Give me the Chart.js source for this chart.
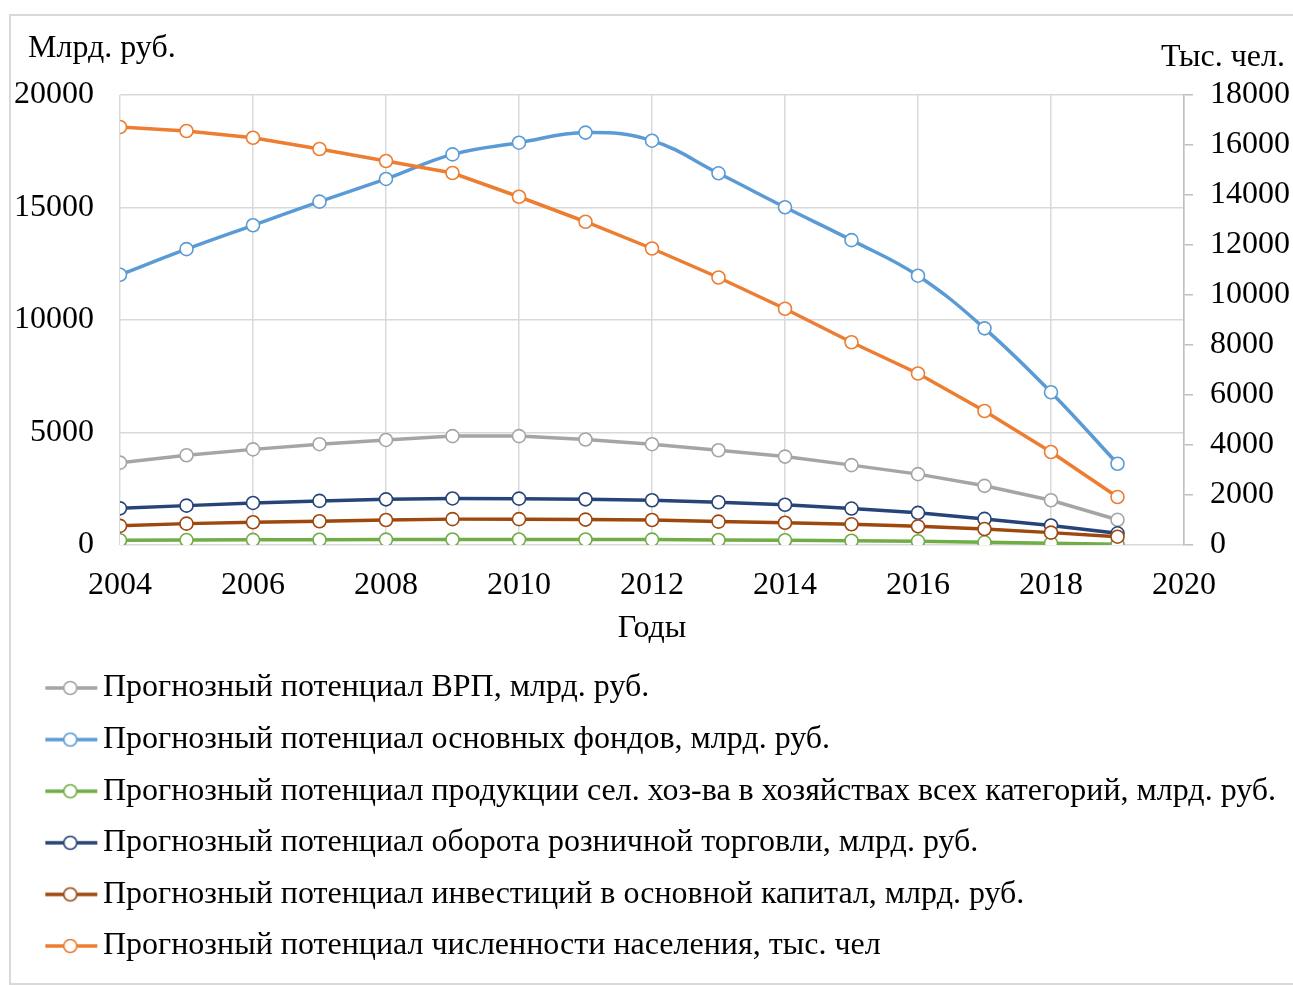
<!DOCTYPE html>
<html lang="ru">
<head>
    <meta charset="UTF-8">
    <title>Прогнозный потенциал</title>
    <script src="https://cdn.jsdelivr.net/npm/chart.js"></script>
    <style>
        body {
            margin: 0;
            background-color: white;
            overflow: hidden;
        }
        .frame {
            position: absolute;
            left: 9px;
            top: 14px;
            width: 1340px;
            height: 967px;
            border: 2px solid #d9d9d9;
        }
        #forecastChart {
            position: absolute;
            left: 0;
            top: 0;
        }
    </style>
</head>
<body>
    <div class="frame"></div>
    <canvas id="forecastChart" width="1293" height="985"></canvas>

    <script>
        const years = [2004, 2005, 2006, 2007, 2008, 2009, 2010, 2011, 2012, 2013, 2014, 2015, 2016, 2017, 2018, 2019];

        // млрд. руб. (left axis)
        const grp = [3660, 3990, 4250, 4480, 4670, 4840, 4840, 4690, 4480, 4210, 3930, 3550, 3150, 2630, 1990, 1120];
        const fixedAssets = [12010, 13150, 14210, 15260, 16270, 17360, 17880, 18330, 17970, 16520, 15010, 13550, 11970, 9630, 6790, 3610];
        const agriculture = [210, 220, 230, 235, 240, 245, 245, 245, 240, 225, 210, 190, 165, 120, 75, 30];
        const retail = [1630, 1750, 1870, 1960, 2030, 2070, 2060, 2030, 1990, 1900, 1790, 1620, 1430, 1160, 870, 520];
        const investment = [850, 950, 1010, 1055, 1110, 1150, 1150, 1130, 1110, 1040, 990, 920, 830, 710, 550, 370];

        // тыс. чел. (right axis)
        const population = [16720, 16560, 16290, 15840, 15360, 14880, 13930, 12930, 11860, 10700, 9450, 8110, 6860, 5360, 3720, 1920];

        const leftTicks = [0, 5000, 10000, 15000, 20000];
        const rightTicks = [0, 2000, 4000, 6000, 8000, 10000, 12000, 14000, 16000, 18000];
        const yearTicks = [2004, 2006, 2008, 2010, 2012, 2014, 2016, 2018, 2020];

        const leftUnit = 'Млрд. руб.';
        const rightUnit = 'Тыс. чел.';
        const xTitle = 'Годы';

        const serif = '"Liberation Serif", "Times New Roman", serif';
        const gridColor = '#d9d9d9';

        // legend marker: short line with a hollow circle (left part left blank as indent)
        function legendMarker(color) {
            const c = document.createElement('canvas');
            c.width = 100;
            c.height = 18;
            const g = c.getContext('2d');
            g.strokeStyle = color;
            g.lineWidth = 3.5;
            g.beginPath();
            g.moveTo(42, 9);
            g.lineTo(94, 9);
            g.stroke();
            g.beginPath();
            g.arc(67, 9, 6.5, 0, Math.PI * 2);
            g.fillStyle = '#fff';
            g.fill();
            g.lineWidth = 1.6;
            g.stroke();
            return c;
        }

        function series(label, values, color, axis, tension) {
            return {
                label: label,
                data: years.map((yr, i) => ({ x: yr, y: values[i] })),
                yAxisID: axis,
                borderColor: color,
                backgroundColor: '#fff',
                borderWidth: 3.5,
                pointRadius: 6.5,
                pointBorderWidth: 1.6,
                pointBackgroundColor: '#fff',
                pointBorderColor: color,
                tension: tension || 0,
                marker: legendMarker(color)
            };
        }

        // first dataset is painted on top, so the list goes in reverse
        const datasets = [
            series('Прогнозный потенциал численности населения, тыс. чел', population, '#ED7D31', 'y1'),
            series('Прогнозный потенциал инвестиций в основной капитал, млрд. руб.', investment, '#9E480E', 'y'),
            series('Прогнозный потенциал оборота розничной торговли, млрд. руб.', retail, '#264478', 'y'),
            series('Прогнозный потенциал продукции сел. хоз-ва в хозяйствах всех категорий, млрд. руб.', agriculture, '#70AD47', 'y'),
            series('Прогнозный потенциал основных фондов, млрд. руб.', fixedAssets, '#5B9BD5', 'y', 0.4),
            series('Прогнозный потенциал ВРП, млрд. руб.', grp, '#A5A5A5', 'y')
        ];

        const unitLabels = {
            id: 'unitLabels',
            afterDraw(chart) {
                const { ctx, chartArea, scales } = chart;
                ctx.save();
                ctx.font = '32px ' + serif;
                ctx.fillStyle = '#000';
                ctx.textBaseline = 'middle';
                ctx.textAlign = 'left';
                ctx.fillText(leftUnit, scales.y.left + 28, chartArea.top - 46);
                ctx.textAlign = 'right';
                ctx.fillText(rightUnit, scales.y1.right - 8, chartArea.top - 37);
                ctx.restore();
            }
        };

        new Chart(document.getElementById('forecastChart'), {
            type: 'line',
            data: { datasets: datasets },
            options: {
                responsive: false,
                animation: false,
                devicePixelRatio: 1,
                layout: { padding: { left: 0, right: 0, top: 95, bottom: 13 } },
                plugins: {
                    tooltip: { enabled: false },
                    legend: {
                        position: 'bottom',
                        align: 'start',
                        reverse: true,
                        labels: {
                            usePointStyle: true,
                            pointStyleWidth: 67.4,
                            padding: 19.6,
                            color: '#000',
                            font: { family: serif, size: 32 },
                            generateLabels(chart) {
                                return chart.data.datasets.map((ds, i) => ({
                                    text: ds.label,
                                    pointStyle: ds.marker,
                                    fillStyle: '#fff',
                                    strokeStyle: ds.borderColor,
                                    lineWidth: 0,
                                    fontColor: '#000',
                                    hidden: false,
                                    datasetIndex: i
                                }));
                            }
                        }
                    }
                },
                scales: {
                    x: {
                        type: 'linear',
                        min: 2004,
                        max: 2020,
                        afterBuildTicks(scale) {
                            scale.ticks = yearTicks.map(v => ({ value: v }));
                        },
                        afterFit(scale) { scale.height = 107.4; },
                        grid: { color: gridColor, lineWidth: 1.5, drawTicks: false },
                        border: { display: false },
                        ticks: {
                            color: '#000',
                            padding: 21,
                            maxRotation: 0,
                            font: { family: serif, size: 32 },
                            callback: v => String(v)
                        },
                        title: {
                            display: true,
                            text: xTitle,
                            color: '#000',
                            padding: { top: 0, bottom: 5 },
                            font: { family: serif, size: 32 }
                        }
                    },
                    y: {
                        position: 'left',
                        min: 0,
                        max: 20000,
                        afterBuildTicks(scale) {
                            scale.ticks = leftTicks.map(v => ({ value: v }));
                        },
                        afterFit(scale) { scale.width = 120; },
                        grid: { color: gridColor, lineWidth: 1.5, drawTicks: false },
                        border: { display: false },
                        ticks: {
                            color: '#000',
                            padding: 26,
                            font: { family: serif, size: 32 },
                            callback: v => String(v)
                        }
                    },
                    y1: {
                        position: 'right',
                        min: 0,
                        max: 18000,
                        afterBuildTicks(scale) {
                            scale.ticks = rightTicks.map(v => ({ value: v }));
                        },
                        afterFit(scale) { scale.width = 109; },
                        grid: {
                            drawOnChartArea: false,
                            color: '#bfbfbf',
                            lineWidth: 1.5,
                            tickLength: 9
                        },
                        border: { display: true, color: '#bfbfbf', width: 1.5 },
                        ticks: {
                            color: '#000',
                            padding: 17,
                            font: { family: serif, size: 32 },
                            callback: v => String(v)
                        }
                    }
                }
            },
            plugins: [unitLabels]
        });
    </script>
</body>
</html>
